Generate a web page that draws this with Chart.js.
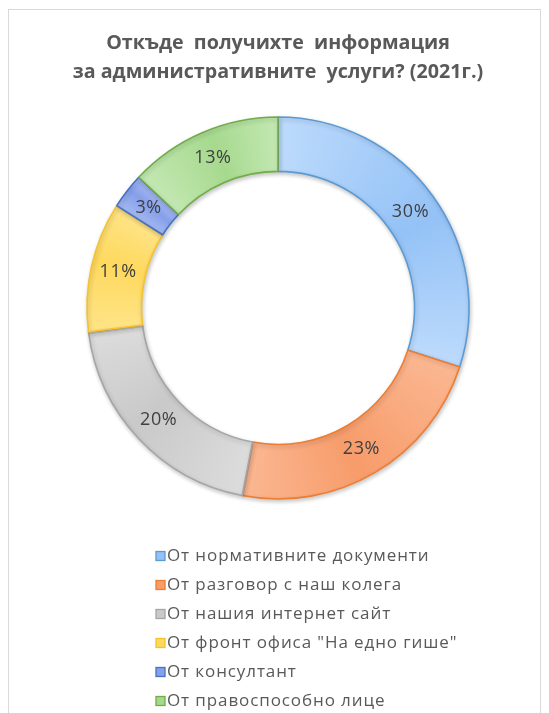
<!DOCTYPE html>
<html>
<head>
<meta charset="utf-8">
<script src="https://cdn.jsdelivr.net/npm/chart.js@4.4.1/dist/chart.umd.min.js"></script>
<style>
  html, body { margin: 0; padding: 0; background: #ffffff; }
  #wrap { position: relative; width: 549px; height: 713px; }
  #frame { position: absolute; left: 8px; top: 9px; width: 533px; height: 720px; border: 1px solid #d9d9d9; box-sizing: border-box; }
  canvas { position: absolute; left: 0; top: 0; }
</style>
</head>
<body>
<div id="wrap">
  <div id="frame"></div>
  <canvas id="chart" width="549" height="713"></canvas>
</div>
<script>
// Survey answers: where respondents learned about the administrative services (2021)
const titleLines = ['Откъде  получихте  информация', 'за административните  услуги? (2021г.)'];
const categories = [
  'От нормативните документи',
  'От разговор с наш колега',
  'От нашия интернет сайт',
  'От фронт офиса "На едно гише"',
  'От консултант',
  'От правоспособно лице'
];
const shares = [30, 23, 20, 11, 3, 13];

// Slice palette: outline colour, base fill, light fill for the gradient ends
const outlineColors = ['#5b9bd5', '#ed7d31', '#a5a5a5', '#f5c32c', '#4472c4', '#70ad47'];
const baseFills     = ['#94c2f6', '#f79c6b', '#c9c9c9', '#fed95e', '#869fea', '#a6d98e'];
const lightFills    = ['#bcdafc', '#fbb791', '#dcdcdc', '#ffe487', '#a4b8f2', '#c3e8b2'];

const textGray = '#595959';
const FONT = '"Open Sans", Lato, sans-serif';

function sliceGradient(context) {
  const chart = context.chart;
  const i = context.dataIndex;
  const area = chart.chartArea;
  if (!area || !chart.ctx.createConicGradient) return baseFills[i];
  const cx = (area.left + area.right) / 2;
  const cy = (area.top + area.bottom) / 2;
  const total = shares.reduce((a, b) => a + b, 0);
  let start = 0;
  for (let k = 0; k < i; k++) start += shares[k] / total;
  const end = start + shares[i] / total;
  const g = chart.ctx.createConicGradient(-Math.PI / 2, cx, cy);
  const eps = 0.0005;
  g.addColorStop(Math.max(0, start - eps), 'rgba(0,0,0,0)');
  g.addColorStop(start, lightFills[i]);
  g.addColorStop(start + (end - start) * 0.55, baseFills[i]);
  g.addColorStop(end, lightFills[i]);
  g.addColorStop(Math.min(1, end + eps), 'rgba(0,0,0,0)');
  return g;
}

// Soft drop shadow under the ring
const ringShadow = {
  id: 'ringShadow',
  beforeDatasetsDraw(chart) {
    const ctx = chart.ctx;
    ctx.save();
    ctx.shadowColor = 'rgba(0,0,0,0.22)';
    ctx.shadowBlur = 4;
    ctx.shadowOffsetX = 1;
    ctx.shadowOffsetY = 2;
  },
  afterDatasetsDraw(chart) {
    chart.ctx.restore();
  }
};

// Percentage labels in the middle of each slice
const sliceLabels = {
  id: 'sliceLabels',
  afterDatasetsDraw(chart) {
    const ctx = chart.ctx;
    const meta = chart.getDatasetMeta(0);
    ctx.save();
    ctx.font = '18px ' + FONT;
    if ('letterSpacing' in ctx) ctx.letterSpacing = '0.6px';
    ctx.fillStyle = '#404040';
    ctx.textAlign = 'center';
    ctx.textBaseline = 'middle';
    meta.data.forEach((arc, i) => {
      const p = arc.tooltipPosition();
      ctx.fillText(shares[i] + '%', p.x, p.y);
    });
    ctx.restore();
  }
};

// Single-column, left-aligned legend under the ring
const columnLegend = {
  id: 'columnLegend',
  afterDraw(chart) {
    const ctx = chart.ctx;
    const x0 = 156, y0 = 556, step = 29, box = 9;
    ctx.save();
    ctx.font = '17px ' + FONT;
    if ('letterSpacing' in ctx) ctx.letterSpacing = '0.9px';
    ctx.textBaseline = 'middle';
    ctx.textAlign = 'left';
    categories.forEach((label, i) => {
      const y = y0 + i * step;
      ctx.fillStyle = baseFills[i];
      ctx.fillRect(x0, y - box / 2, box, box);
      ctx.strokeStyle = outlineColors[i];
      ctx.lineWidth = 1.3;
      ctx.strokeRect(x0, y - box / 2, box, box);
      ctx.fillStyle = textGray;
      ctx.fillText(label, x0 + box + 2, y);
    });
    ctx.restore();
  }
};

new Chart(document.getElementById('chart'), {
  type: 'doughnut',
  data: {
    labels: categories,
    datasets: [{
      data: shares,
      backgroundColor: sliceGradient,
      borderColor: outlineColors,
      borderWidth: 1.6,
      borderAlign: 'center',
      radius: 191,
      cutout: 141
    }]
  },
  options: {
    responsive: false,
    animation: false,
    events: [],
    layout: { padding: { left: 7, right: 0, top: 0, bottom: 207 } },
    plugins: {
      legend: { display: false },
      tooltip: { enabled: false },
      title: {
        display: true,
        text: titleLines,
        color: textGray,
        font: { family: FONT, size: 19.7, weight: 'bold', lineHeight: 1.47 },
        padding: { top: 29, bottom: 23 }
      }
    }
  },
  plugins: [ringShadow, sliceLabels, columnLegend]
});
</script>
</body>
</html>
